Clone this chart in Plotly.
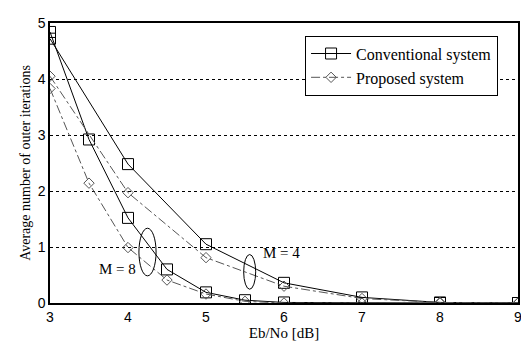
import plotly.graph_objects as go

# Data
conv_m4_x = [3, 4, 5, 6, 7, 8, 9]
conv_m4_y = [4.72, 2.48, 1.05, 0.36, 0.10, 0.01, 0.0]
conv_m8_x = [3, 3.5, 4, 4.5, 5, 5.5, 6, 7, 8, 9]
conv_m8_y = [4.84, 2.92, 1.52, 0.60, 0.19, 0.05, 0.01, 0.0, 0.0, 0.0]
prop_m4_x = [3, 4, 5, 6, 7, 8, 9]
prop_m4_y = [4.05, 1.97, 0.81, 0.30, 0.08, 0.01, 0.0]
prop_m8_x = [3, 3.5, 4, 4.5, 5, 5.5, 6, 7, 8, 9]
prop_m8_y = [3.83, 2.14, 0.99, 0.41, 0.16, 0.03, 0.0, 0.0, 0.0, 0.0]

x_ticks = [3, 4, 5, 6, 7, 8, 9]
y_ticks = [0, 1, 2, 3, 4, 5]

# annotation anchors (data coords)
m8_label = (3.86, 0.60)
m4_label = (5.97, 0.89)
m8_ellipse = (4.25, 0.91, 0.11, 0.425)
m4_ellipse = (5.56, 0.556, 0.077, 0.31)

serif = "Liberation Serif, Times New Roman, serif"
narrow = "Liberation Sans Narrow, Arial Narrow, Liberation Sans, sans-serif"

fig = go.Figure()

def add(x, y, name, show, conv):
    if conv:
        line = dict(color="black", width=1)
        marker = dict(symbol="square-open", size=11, color="black", line=dict(width=1))
    else:
        line = dict(color="#555555", width=1, dash="dashdot")
        marker = dict(symbol="diamond-open", size=8, color="#555555", line=dict(width=1))
    fig.add_trace(go.Scatter(x=x, y=y, mode="lines+markers", name=name,
                             legendgroup=name, showlegend=show,
                             line=line, marker=marker))

add(conv_m4_x, conv_m4_y, "Conventional system", True, True)
add(conv_m8_x, conv_m8_y, "Conventional system", False, True)
add(prop_m4_x, prop_m4_y, "Proposed system", True, False)
add(prop_m8_x, prop_m8_y, "Proposed system", False, False)

for cx, cy, rx, ry in (m8_ellipse, m4_ellipse):
    fig.add_shape(type="circle", xref="x", yref="y",
                  x0=cx - rx, x1=cx + rx, y0=cy - ry, y1=cy + ry,
                  line=dict(color="black", width=1))

fig.add_annotation(x=m8_label[0], y=m8_label[1], text="M = 8", showarrow=False,
                   font=dict(family=serif, size=15, color="black"))
fig.add_annotation(x=m4_label[0], y=m4_label[1], text="M = 4", showarrow=False,
                   font=dict(family=serif, size=15, color="black"))

# the page body has an 8px margin, so the figure is sized to compensate
fig.update_layout(
    width=521, height=346,
    margin=dict(l=42, r=9, t=7, b=51),
    paper_bgcolor="white", plot_bgcolor="white",
    showlegend=True,
    legend=dict(x=0.545, y=0.955, xanchor="left", yanchor="top",
                bgcolor="white", bordercolor="black", borderwidth=1,
                font=dict(family=serif, size=16, color="black"),
                tracegroupgap=0, itemwidth=40),
    xaxis=dict(range=[3, 9], tickvals=x_ticks, showgrid=False, zeroline=False,
               showline=True, linecolor="black", linewidth=1.5, mirror=True,
               ticks="", ticklabeloverflow="allow",
               tickfont=dict(family=narrow, size=14, color="black"),
               title=dict(text="Eb/No [dB]", font=dict(family=serif, size=15, color="black"),
                          standoff=2)),
    yaxis=dict(range=[0, 5], tickvals=y_ticks, showgrid=True, gridcolor="black",
               griddash="dot", gridwidth=1, zeroline=False,
               showline=True, linecolor="black", linewidth=1.5, mirror=True,
               ticks="", ticklabeloverflow="allow",
               tickfont=dict(family=narrow, size=14, color="black"),
               title=dict(text="Average number of outer iterations",
                          font=dict(family=serif, size=14, color="black"), standoff=4)),
)

fig.write_html("out.html")
